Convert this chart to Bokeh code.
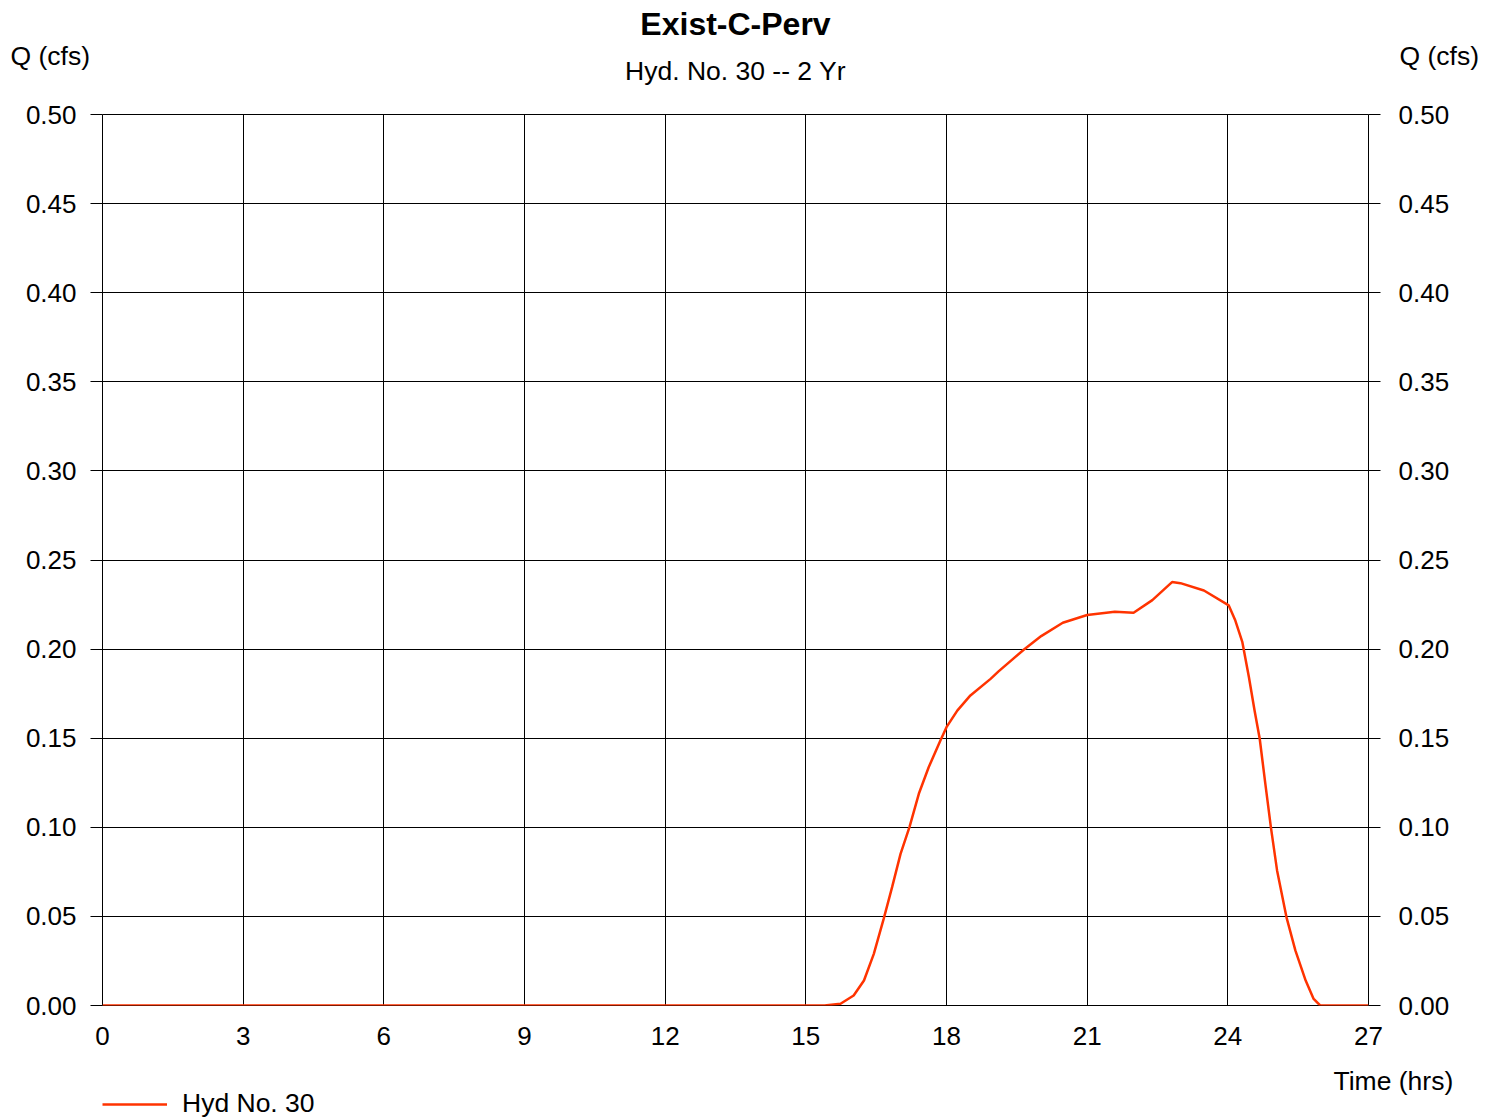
from bokeh.plotting import figure
from bokeh.layouts import column
from bokeh.models import (Range1d, LinearAxis, FixedTicker, NumeralTickFormatter, Legend,
                          LegendItem, Label)
from bokeh.embed import file_html
from bokeh.resources import INLINE

# ---- data ----
time_hrs = [0.0, 15.40, 15.74, 16.02, 16.24, 16.45, 16.66, 16.84, 17.02, 17.21, 17.41,
            17.62, 17.87, 18.00, 18.23, 18.51, 18.94, 19.11, 19.64, 20.02, 20.48,
            21.00, 21.59, 21.99, 22.39, 22.81, 22.99, 23.49, 24.02, 24.16, 24.31,
            24.45, 24.57, 24.68, 24.80, 24.92, 25.05, 25.25, 25.44, 25.66, 25.83,
            25.97, 27.0]
flow_cfs = [0.0, 0.0, 0.0010, 0.0056, 0.0140, 0.0290, 0.0486, 0.0664, 0.0851, 0.1001, 0.1188,
            0.1337, 0.1487, 0.1562, 0.1655, 0.1740, 0.1833, 0.1875, 0.1995, 0.2073, 0.2148,
            0.2191, 0.2210, 0.2204, 0.2275, 0.2376, 0.2370, 0.2329, 0.2245, 0.2160, 0.2039,
            0.1842, 0.1655, 0.1497, 0.1244, 0.0997, 0.0758, 0.0496, 0.0309, 0.0140, 0.0037,
            0.0, 0.0]
x_ticks = [0, 3, 6, 9, 12, 15, 18, 21, 24, 27]
y_ticks = [0.00, 0.05, 0.10, 0.15, 0.20, 0.25, 0.30, 0.35, 0.40, 0.45, 0.50]
title_text = "Exist-C-Perv"
subtitle_text = "Hyd. No. 30 -- 2 Yr"
y_label = "Q (cfs)"
x_label = "Time (hrs)"
series_name = "Hyd No. 30"

FONT = "Liberation Sans"
FS = "26px"
FS_TXT = "26.5px"
LINE_COLOR = "#ff3300"
W = 1497

def bare(fig):
    fig.outline_line_color = None
    fig.background_fill_color = "white"
    fig.border_fill_color = "white"
    fig.frame_align = False

def lab(fig, x, y, text, align, size=FS_TXT, bold=False):
    fig.add_layout(Label(x=x, y=y, text=text, text_align=align, text_baseline="middle",
                         text_font=FONT, text_font_size=size,
                         text_font_style="bold" if bold else "normal", text_color="black"))

# ---------------- header (title, subtitle, axis titles) ----------------
HEAD_H = 96
head = figure(width=W, height=HEAD_H, output_backend="svg", toolbar_location=None,
              x_range=Range1d(0, W), y_range=Range1d(HEAD_H, 0),
              x_axis_type=None, y_axis_type=None,
              min_border_left=0, min_border_right=0, min_border_top=0, min_border_bottom=0)
bare(head)
lab(head, 735, 23, title_text, "center", size="32px", bold=True)
lab(head, 735, 70, subtitle_text, "center")
lab(head, 10, 55, y_label, "left")
lab(head, 1399, 55, y_label, "left")

# ---------------- main chart ----------------
MAIN_H = 964
p = figure(width=W, height=MAIN_H, output_backend="svg", toolbar_location=None,
           x_range=Range1d(0, 27), y_range=Range1d(0, 0.5),
           min_border_left=102, min_border_right=129, min_border_top=18, min_border_bottom=55)
p.background_fill_color = "white"
p.border_fill_color = "white"
p.outline_line_color = "black"
p.outline_line_width = 1
p.frame_align = False

p.xgrid.ticker = FixedTicker(ticks=x_ticks)
p.ygrid.ticker = FixedTicker(ticks=y_ticks)
for g in (p.xgrid, p.ygrid):
    g.grid_line_color = "black"
    g.grid_line_width = 1

xa = p.xaxis[0]
xa.ticker = FixedTicker(ticks=x_ticks)
xa.major_tick_out = 0
xa.major_tick_in = 0
xa.minor_tick_out = 0
xa.minor_tick_in = 0
xa.axis_line_color = None
xa.major_label_standoff = 21
xa.major_label_text_font = FONT
xa.major_label_text_font_size = FS
xa.major_label_text_color = "black"

def style_y(ax, standoff):
    ax.ticker = FixedTicker(ticks=y_ticks)
    ax.formatter = NumeralTickFormatter(format="0.00")
    ax.major_tick_out = 12
    ax.major_tick_in = 0
    ax.minor_tick_out = 0
    ax.minor_tick_in = 0
    ax.major_tick_line_color = "black"
    ax.axis_line_color = None
    ax.major_label_standoff = standoff
    ax.major_label_text_font = FONT
    ax.major_label_text_font_size = FS
    ax.major_label_text_color = "black"

style_y(p.yaxis[0], 14)
ra = LinearAxis()
style_y(ra, 18)
p.add_layout(ra, "right")

p.line(time_hrs, flow_cfs, line_color=LINE_COLOR, line_width=2.5)

# ---------------- footer (x title, legend) ----------------
FOOT_H = 58
FOOT_TOP = HEAD_H + MAIN_H
foot = figure(width=W, height=FOOT_H, output_backend="svg", toolbar_location=None,
              x_range=Range1d(0, W), y_range=Range1d(FOOT_TOP + FOOT_H, FOOT_TOP),
              x_axis_type=None, y_axis_type=None,
              min_border_left=0, min_border_right=0, min_border_top=0, min_border_bottom=0)
bare(foot)
lab(foot, 1333, 1080, x_label, "left")

# legend key: same series, drawn outside this strip's visible range, so only the key shows
key = foot.line(time_hrs, flow_cfs, line_color=LINE_COLOR, line_width=2.5)
leg = Legend(items=[LegendItem(label=series_name, renderers=[key])], location=(102, -1),
             padding=0, margin=0, spacing=0, glyph_width=65, glyph_height=28,
             label_height=28, label_standoff=15, border_line_alpha=0,
             background_fill_alpha=0, label_text_font=FONT, label_text_font_size=FS_TXT,
             label_text_color="black")
foot.add_layout(leg)

layout = column(head, p, foot, spacing=0)
open("out.html", "w").write(file_html(layout, INLINE))
